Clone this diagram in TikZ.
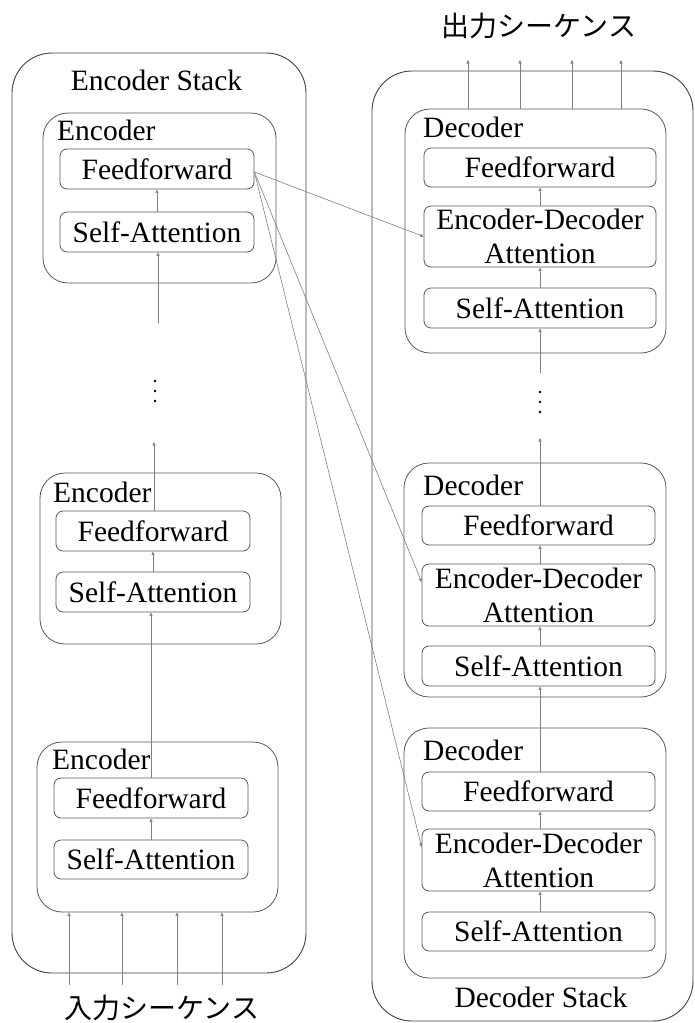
\documentclass[tikz,border=0pt]{standalone}
\usepackage{fontspec}
\setmainfont{Liberation Serif}
\newfontfamily\jpfont{Noto Sans CJK JP}
\usetikzlibrary{arrows.meta}

\tikzset{
  txt/.style={font=\fontsize{29.5}{30}\selectfont, inner sep=0pt},
  jptxt/.style={font=\jpfont\fontsize{28}{30}\selectfont, inner sep=0pt},
  stackbox/.style={draw=black!75, line width=0.9pt, rounded corners=40pt, inner sep=0pt},
  blockbox/.style={draw=black!65, line width=0.8pt, rounded corners=25pt, inner sep=0pt},
  layerbox/.style={draw=black!65, line width=0.8pt, rounded corners=7pt, inner sep=0pt,
    align=center, font=\fontsize{29.5}{34}\selectfont},
  link/.style={draw=black!50, line width=0.6pt, -{Triangle[length=3.5pt,width=3pt]}},
  dotmark/.style={fill=black, circle, inner sep=0pt, minimum size=2.8pt},
}

\begin{document}
\begin{tikzpicture}[x=1pt,y=-1pt]
\useasboundingbox (0,0) rectangle (694,1023);

% ---------------- Encoder stack ----------------
\node[stackbox, minimum width=294pt, minimum height=920pt] (encstack) at (159,513) {};
\node[txt, anchor=base] (enclbl) at (156.5,90) {Encoder Stack};

% top encoder
\node[blockbox, minimum width=233pt, minimum height=170pt] (enc1) at (159.5,198) {};
\node[txt, anchor=base west] (enc1lbl) at (57,140) {Encoder};
\node[layerbox, minimum width=194pt, minimum height=40pt] (e1ff) at (157,169) {Feedforward};
\node[layerbox, minimum width=194pt, minimum height=40pt] (e1sa) at (157,232) {Self-Attention};

% middle encoder
\node[blockbox, minimum width=241pt, minimum height=171pt] (enc2) at (160.5,558.5) {};
\node[txt, anchor=base west] (enc2lbl) at (53,502) {Encoder};
\node[layerbox, minimum width=194pt, minimum height=40pt] (e2ff) at (153,531) {Feedforward};
\node[layerbox, minimum width=194pt, minimum height=40pt] (e2sa) at (153,592) {Self-Attention};

% bottom encoder
\node[blockbox, minimum width=241pt, minimum height=170pt] (enc3) at (157.5,827) {};
\node[txt, anchor=base west] (enc3lbl) at (52,769) {Encoder};
\node[layerbox, minimum width=194pt, minimum height=40pt] (e3ff) at (151,798) {Feedforward};
\node[layerbox, minimum width=194pt, minimum height=39pt] (e3sa) at (151,859.5) {Self-Attention};

% elided encoders
\node[dotmark] (ed1) at (155,381) {};
\node[dotmark] (ed2) at (155,391) {};
\node[dotmark] (ed3) at (155,401) {};

% encoder flow
\draw[link] (e1sa.north) -- (e1ff.south);
\coordinate (e1in) at (158,323);
\draw[link] (e1in) -- (e1in |- e1sa.south);
\draw[link] (e2sa.north) -- (e2ff.south);
\coordinate (e2out) at (154,442);
\draw[link] (e2out |- e2ff.north) -- (e2out);
\draw[link] (e3sa.north) -- (e3ff.south);
\draw[link] (e3ff.north) -- (e3ff.north |- e2sa.south);

% input sequence
\node[jptxt] (inseq) at (162,1008) {入力シーケンス};
\foreach \xx [count=\i] in {69,122,177,222} {
  \coordinate (in\i) at (\xx,985);
  \draw[link] (in\i) -- (in\i |- enc3.south);
}

% ---------------- Decoder stack ----------------
\node[stackbox, minimum width=321pt, minimum height=950pt] (decstack) at (532.5,546) {};
\node[txt, anchor=base] (declbl) at (541,1007) {Decoder Stack};

% top decoder
\node[blockbox, minimum width=261pt, minimum height=244pt] (dec1) at (535.5,231) {};
\node[txt, anchor=base west] (dec1lbl) at (423,137) {Decoder};
\node[layerbox, minimum width=232pt, minimum height=39pt] (d1ff) at (540,167.5) {Feedforward};
\node[layerbox, minimum width=232pt, minimum height=61pt] (d1ed) at (540,236.5) {Encoder-Decoder\\Attention};
\node[layerbox, minimum width=232pt, minimum height=40pt] (d1sa) at (540,308) {Self-Attention};

% middle decoder
\node[blockbox, minimum width=262pt, minimum height=234pt] (dec2) at (535,580) {};
\node[txt, anchor=base west] (dec2lbl) at (423,495) {Decoder};
\node[layerbox, minimum width=233pt, minimum height=39pt] (d2ff) at (538.5,525.5) {Feedforward};
\node[layerbox, minimum width=233pt, minimum height=62pt] (d2ed) at (538.5,595) {Encoder-Decoder\\Attention};
\node[layerbox, minimum width=233pt, minimum height=40pt] (d2sa) at (538.5,666) {Self-Attention};

% bottom decoder
\node[blockbox, minimum width=262pt, minimum height=250pt] (dec3) at (535,853) {};
\node[txt, anchor=base west] (dec3lbl) at (423,760) {Decoder};
\node[layerbox, minimum width=233pt, minimum height=39pt] (d3ff) at (538.5,791.5) {Feedforward};
\node[layerbox, minimum width=233pt, minimum height=62pt] (d3ed) at (538.5,860) {Encoder-Decoder\\Attention};
\node[layerbox, minimum width=233pt, minimum height=39pt] (d3sa) at (538.5,931.5) {Self-Attention};

% elided decoders
\node[dotmark] (dd1) at (540,392) {};
\node[dotmark] (dd2) at (540,402) {};
\node[dotmark] (dd3) at (540,412) {};

% decoder flow
\coordinate (dflow) at (540,0);
\draw[link] (dflow |- d1ed.north) -- (dflow |- d1ff.south);
\draw[link] (dflow |- d1sa.north) -- (dflow |- d1ed.south);
\coordinate (d1in) at (540,373);
\draw[link] (d1in) -- (d1in |- d1sa.south);
\draw[link] (dflow |- d2ed.north) -- (dflow |- d2ff.south);
\draw[link] (dflow |- d2sa.north) -- (dflow |- d2ed.south);
\coordinate (d2out) at (540,438);
\draw[link] (d2out |- d2ff.north) -- (d2out);
\draw[link] (dflow |- d3ed.north) -- (dflow |- d3ff.south);
\draw[link] (dflow |- d3sa.north) -- (dflow |- d3ed.south);
\draw[link] (dflow |- d3ff.north) -- (dflow |- d2sa.south);

% output sequence
\node[jptxt] (outseq) at (539,26) {出力シーケンス};
\foreach \xx [count=\i] in {468,520,572,621} {
  \coordinate (out\i) at (\xx,60);
  \draw[link] (out\i |- dec1.north) -- (out\i);
}

% encoder output fed to every decoder
\draw[link] ([yshift=-3pt]e1ff.east) -- (d1ed.west);
\draw[link] ([yshift=-3pt]e1ff.east) -- ([yshift=13pt]d2ed.west);
\draw[link] ([yshift=-3pt]e1ff.east) -- ([yshift=13pt]d3ed.west);
\end{tikzpicture}
\end{document}
